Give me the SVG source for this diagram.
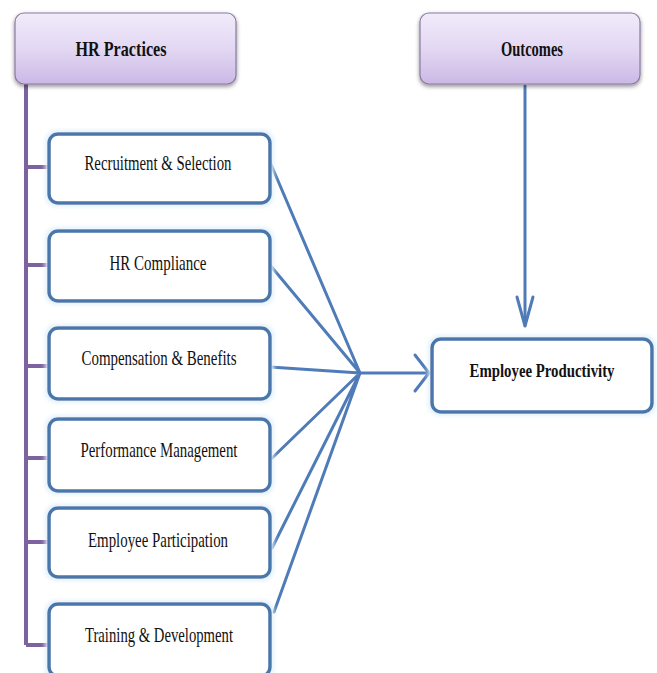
<svg xmlns="http://www.w3.org/2000/svg" width="657" height="673" viewBox="0 0 657 673">
<defs>
<linearGradient id="hdr" x1="0" y1="0" x2="0" y2="1">
<stop offset="0" stop-color="#f1ebfa"/>
<stop offset="0.5" stop-color="#e3d8f3"/>
<stop offset="1" stop-color="#cbb8e5"/>
</linearGradient>
<filter id="sh" x="-10%" y="-10%" width="120%" height="130%">
<feGaussianBlur in="SourceAlpha" stdDeviation="2"/>
<feOffset dx="0" dy="2" result="b"/>
<feComponentTransfer><feFuncA type="linear" slope="0.45"/></feComponentTransfer>
<feMerge><feMergeNode/><feMergeNode in="SourceGraphic"/></feMerge>
</filter>
<filter id="glow" x="-10%" y="-20%" width="120%" height="140%">
<feMorphology in="SourceAlpha" operator="dilate" radius="2" result="d"/>
<feGaussianBlur in="d" stdDeviation="2" result="g"/>
<feFlood flood-color="#e2f0fa"/>
<feComposite in2="g" operator="in"/>
<feMerge><feMergeNode/><feMergeNode in="SourceGraphic"/></feMerge>
</filter>
</defs>
<style>
.hdr{fill:url(#hdr);stroke:#8a7aa3;stroke-width:1.2;filter:url(#sh)}
.box{fill:#ffffff;stroke:#4a76ab;stroke-width:3.5;filter:url(#glow)}
.t{font-family:"Liberation Serif","Times New Roman",serif;font-size:22px;fill:#111;text-anchor:middle}
.b{font-weight:bold}
.con{stroke:#4f7cb8;stroke-width:3;fill:none;stroke-linecap:round;stroke-linejoin:round}
.tree{stroke:#7d62a0;stroke-width:4;fill:none}
</style>
<rect width="657" height="673" fill="#ffffff"/>
<g id="tree">
<path class="tree" d="M26,84 V645 M26,167 H48 M26,265 H48 M26,366 H48 M26,458 H48 M26,542 H48 M26,645 H48"/>
</g>
<g id="connectors">
<path class="con" d="M270,162 L360,373 M270,265 L360,373 M270,367 L360,373 M270,460 L360,373 M272,548 L360,373 M274,612 L360,373"/>
<path class="con" d="M360,373 H426" stroke-width="6.5"/>
<path class="con" d="M415,355 L429,373 L415,391" stroke-width="5.5"/>
<path class="con" d="M525,86 V325" stroke-width="4"/>
<path class="con" d="M517,297 L525,326 L533,297" stroke-width="4.5"/>
</g>
<g id="hr-practices">
<rect class="hdr" x="15" y="13" width="221" height="71" rx="9"/>
<text class="t b" x="121" y="56" textLength="91" lengthAdjust="spacingAndGlyphs">HR Practices</text>
</g>
<g id="outcomes">
<rect class="hdr" x="420" y="13" width="220" height="71" rx="9"/>
<text class="t b" x="532" y="56" textLength="62" lengthAdjust="spacingAndGlyphs">Outcomes</text>
</g>
<g id="recruitment">
<rect class="box" x="49" y="134" width="221" height="69" rx="9"/>
<text class="t" x="158" y="170" textLength="147" lengthAdjust="spacingAndGlyphs">Recruitment &amp; Selection</text>
</g>
<g id="compliance">
<rect class="box" x="49" y="231" width="221" height="70" rx="9"/>
<text class="t" x="158" y="270" textLength="97" lengthAdjust="spacingAndGlyphs">HR Compliance</text>
</g>
<g id="compensation">
<rect class="box" x="49" y="328" width="221" height="71" rx="9"/>
<text class="t" x="159" y="365" textLength="155" lengthAdjust="spacingAndGlyphs">Compensation &amp; Benefits</text>
</g>
<g id="performance">
<rect class="box" x="49" y="419" width="221" height="72" rx="9"/>
<text class="t" x="159" y="457" textLength="157" lengthAdjust="spacingAndGlyphs">Performance Management</text>
</g>
<g id="participation">
<rect class="box" x="49" y="508" width="221" height="69" rx="9"/>
<text class="t" x="158" y="547" textLength="140" lengthAdjust="spacingAndGlyphs">Employee Participation</text>
</g>
<g id="training">
<rect class="box" x="49" y="604" width="221" height="72" rx="9"/>
<text class="t" x="159" y="642" textLength="148" lengthAdjust="spacingAndGlyphs">Training &amp; Development</text>
</g>
<g id="productivity">
<rect class="box" x="432" y="339" width="220" height="73" rx="9"/>
<text class="t b" x="542" y="377" style="font-size:19px" textLength="145" lengthAdjust="spacingAndGlyphs">Employee Productivity</text>
</g>
</svg>
